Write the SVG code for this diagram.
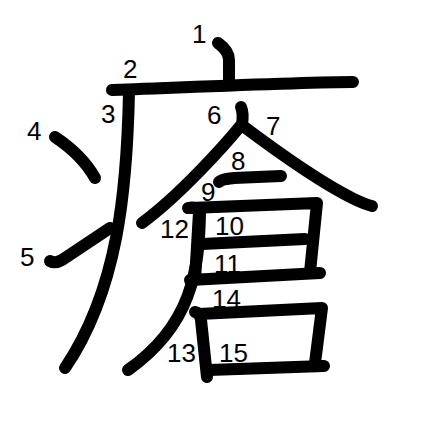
<svg xmlns="http://www.w3.org/2000/svg" width="447" height="447" viewBox="0 0 447 447">
<style>
.s{fill:none;stroke:#000;stroke-width:12;stroke-linecap:round;stroke-linejoin:round}
.n{font-family:"Liberation Sans",Arial,sans-serif;font-size:26px;fill:#000}
</style>
<rect width="447" height="447" fill="#fff"/>
<g id="strokes">
<g id="s1"><path class="s" d="M218,43 C225,48 229,53 229,60 L229,80"/></g>
<g id="s2"><path class="s" d="M112,90 C150,89 300,82 353,82"/></g>
<g id="s3"><path class="s" d="M129,92 C127,190 118,290 65,368"/></g>
<g id="s4"><path class="s" d="M55,137 C70,147 85,160 95,178"/></g>
<g id="s5"><path class="s" d="M50,261 Q55,264 62,260 L110,228"/></g>
<g id="s6"><path class="s" d="M241,107 C243,112 243,118 242,124 C225,145 180,195 142,223"/></g>
<g id="s7"><path class="s" d="M243,126 C275,150 320,182 352,198 Q364,204 372,206"/></g>
<g id="s8"><path class="s" d="M219,182 C222,179 228,179 234,178 L281,176"/></g>
<g id="s9"><path class="s" d="M188,208 Q196,206 199,212 L195,280"/></g>
<g id="s10"><path class="s" d="M190,208 L317,203 L310,272"/></g>
<g id="s11"><path class="s" d="M202,244 L305,239"/></g>
<g id="s12"><path class="s" d="M190,280 L320,273"/></g>
<g id="s13"><path class="s" d="M200,213 C199,270 192,325 128,370"/></g>
<g id="s14"><path class="s" d="M195,312 Q200,313 201,320 L207,377"/></g>
<g id="s15"><path class="s" d="M199,314 L322,308 L315,363"/></g>
<g id="s16"><path class="s" d="M209,370 L324,366"/></g>
</g>
<g id="labels">
<text class="n" x="192" y="43">1</text>
<text class="n" x="123" y="78">2</text>
<text class="n" x="101" y="123">3</text>
<text class="n" x="27" y="140">4</text>
<text class="n" x="20" y="266">5</text>
<text class="n" x="207" y="124">6</text>
<text class="n" x="266" y="135">7</text>
<text class="n" x="231" y="170">8</text>
<text class="n" x="201" y="201">9</text>
<text class="n" x="215" y="235">10</text>
<text class="n" x="214" y="273">11</text>
<text class="n" x="160" y="238">12</text>
<text class="n" x="167" y="362">13</text>
<text class="n" x="212" y="308">14</text>
<text class="n" x="219" y="362">15</text>
</g>
</svg>
